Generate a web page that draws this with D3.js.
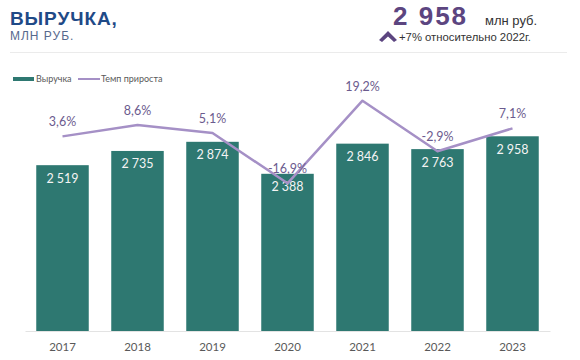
<!DOCTYPE html>
<html><head><meta charset="utf-8">
<script src="https://cdn.jsdelivr.net/npm/d3@7"></script>
<style>body{margin:0;background:#fff}svg{display:block}</style>
</head><body>
<svg id="c" width="580" height="360"></svg>
<script>
const years = ["2017","2018","2019","2020","2021","2022","2023"];
const revenue = [2519, 2735, 2874, 2388, 2846, 2763, 2958];
const growth = [3.6, 8.6, 5.1, -16.9, 19.2, -2.9, 7.1];
const revenueLabels = ["2 519","2 735","2 874","2 388","2 846","2 763","2 958"];
const growthLabels = ["3,6%","8,6%","5,1%","-16,9%","19,2%","-2,9%","7,1%"];
const seriesNames = ["Выручка","Темп прироста"];

const svg = d3.select("#c");
const barColor = "#2e7871", lineColor = "#a590c6", pctColor = "#6b5b8e";
const hf = "Liberation Sans";

// header
svg.append("text").attr("x",10).attr("y",25).text("ВЫРУЧКА,")
  .attr("font-family",hf).attr("font-weight",700).attr("font-size",19)
  .attr("letter-spacing",0.9).attr("fill","#1f4a87");
svg.append("text").attr("x",10).attr("y",40).text("МЛН РУБ.")
  .attr("font-family",hf).attr("font-size",12).attr("letter-spacing",1).attr("fill","#56698d");
svg.append("text").attr("x",393).attr("y",25).text("2 958")
  .attr("font-family",hf).attr("font-weight",700).attr("font-size",26).attr("letter-spacing",2).attr("fill","#5c4580");
svg.append("text").attr("x",485).attr("y",25).text("млн руб.")
  .attr("font-family",hf).attr("font-size",13).attr("fill","#333");
svg.append("text").attr("x",399).attr("y",40.8).text("+7% относительно 2022г.")
  .attr("font-family",hf).attr("font-size",11.3).attr("fill","#333");
svg.append("path").attr("d","M379,40 L388,31 L397,40 L394,42 L388,36.5 L382,42 Z").attr("fill","#5c4580");
svg.append("line").attr("x1",10).attr("x2",567).attr("y1",52.5).attr("y2",52.5).attr("stroke","#ebebeb").attr("stroke-width",1);

// legend
svg.append("rect").attr("x",13).attr("y",77).attr("width",21).attr("height",4).attr("fill",barColor);
svg.append("text").attr("x",36).attr("y",82).text(seriesNames[0]).attr("font-family","Lato").attr("font-size",9).attr("fill","#595959");
svg.append("line").attr("x1",78).attr("x2",100).attr("y1",79).attr("y2",79).attr("stroke",lineColor).attr("stroke-width",2);
svg.append("text").attr("x",101).attr("y",82).text(seriesNames[1]).attr("font-family","Lato").attr("font-size",9).attr("fill","#595959");

// scales
const x = d3.scaleBand().domain(years).range([25,550]).paddingInner(0.3).paddingOuter(0.15);
const y = d3.scaleLinear().domain([0,3500]).range([331,100.6]);
const y2 = d3.scaleLinear().domain([-20,25]).range([190.4,87.4]);

// axis
const ax = svg.append("g").attr("transform","translate(0,331)").call(d3.axisBottom(x).tickSize(0).tickPadding(0));
ax.select(".domain").attr("stroke","#e3e3e3").attr("stroke-width",1.2);
ax.selectAll("text").attr("dy",null).attr("y",20).attr("font-family","Lato").attr("font-size",11.5).attr("fill","#595959");

// bars
svg.append("g").selectAll("rect").data(years).join("rect")
  .attr("x",d=>x(d)).attr("width",x.bandwidth())
  .attr("y",(d,i)=>y(revenue[i])).attr("height",(d,i)=>y(0)-y(revenue[i]))
  .attr("fill",barColor);
svg.append("g").selectAll("text").data(years).join("text")
  .attr("x",d=>x(d)+x.bandwidth()/2).attr("y",(d,i)=>y(revenue[i])+17.5)
  .attr("text-anchor","middle").attr("font-family","Lato").attr("font-size",12.5).attr("fill","#f4f4f4")
  .text((d,i)=>revenueLabels[i]);

// line
const line = d3.line().x((d,i)=>x(years[i])+x.bandwidth()/2).y(d=>y2(d));
svg.append("path").attr("d",line(growth)).attr("fill","none").attr("stroke",lineColor).attr("stroke-width",2.5).attr("stroke-linejoin","round");
svg.append("g").selectAll("text").data(growth).join("text")
  .attr("x",(d,i)=>x(years[i])+x.bandwidth()/2).attr("y",d=>y2(d)-10)
  .attr("text-anchor","middle").attr("font-family","Lato").attr("font-size",12.5).attr("fill",pctColor)
  .text((d,i)=>growthLabels[i]);
</script>
</body></html>
